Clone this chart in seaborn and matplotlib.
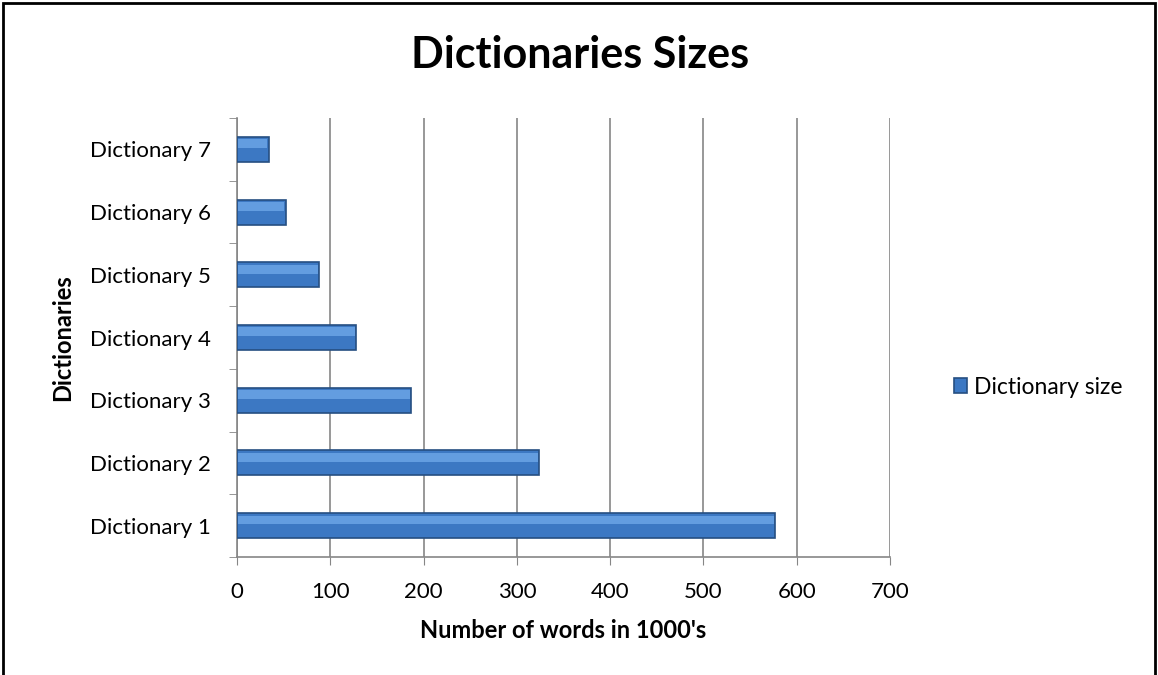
import pandas as pd
import numpy as np
import matplotlib
matplotlib.use("Agg")
import matplotlib.pyplot as plt
import seaborn as sns
from matplotlib.ticker import FixedLocator

# Data
dictionaries = ["Dictionary 1", "Dictionary 2", "Dictionary 3", "Dictionary 4",
                "Dictionary 5", "Dictionary 6", "Dictionary 7"]
sizes = [577, 324, 187, 128, 88, 52, 34]
x_ticks = [0, 100, 200, 300, 400, 500, 600, 700]

df = pd.DataFrame({"Dictionary": dictionaries, "Dictionary size": sizes})

sns.set_style("white")
plt.rcParams["font.family"] = ["Lato", "DejaVu Sans"]
plt.rcParams["text.color"] = "black"
plt.rcParams["axes.labelcolor"] = "black"
plt.rcParams["xtick.color"] = "black"
plt.rcParams["ytick.color"] = "black"

fig = plt.figure(figsize=(11.58, 6.75), dpi=100)
ax = fig.add_axes([237 / 1158, 1 - 557 / 675, (890 - 237) / 1158, (557 - 118) / 675])

sns.barplot(data=df, y="Dictionary", x="Dictionary size", order=dictionaries[::-1],
            orient="h", color="#3c78c3", edgecolor="#264f82", linewidth=1.2,
            width=0.4, saturation=1, ax=ax, label="Dictionary size", zorder=3)

# lighter upper band to mimic the bevel look
sns.barplot(data=df, y="Dictionary", x="Dictionary size", order=dictionaries[::-1],
            orient="h", color="#6aa4e6", linewidth=0, width=0.14, saturation=1,
            ax=ax, zorder=4)
for p in ax.patches[len(dictionaries):]:
    p.set_y(p.get_y() - 0.09)
    p.set_width(max(p.get_width() - 3, 0))
    p.set_x(1.5)
    p.set_alpha(0.85)

ax.set_xlim(0, 700)
ax.set_ylim(6.5, -0.5)
ax.xaxis.set_major_locator(FixedLocator(x_ticks))
ax.set_xticklabels([str(t) for t in x_ticks], fontsize=16)
ax.tick_params(axis="x", length=6, color="#868686", pad=12, direction="out", bottom=True)
ax.tick_params(axis="y", length=0, labelsize=16, pad=19)
ax.yaxis.set_minor_locator(FixedLocator(np.arange(-0.5, 7, 1)))
ax.tick_params(axis="y", which="minor", length=6, color="#868686", direction="out", left=True)

ax.grid(axis="x", color="#868686", linewidth=1.2, zorder=0)
ax.grid(axis="y", visible=False)
ax.set_axisbelow(True)
for side in ["top", "right"]:
    ax.spines[side].set_visible(False)
for side in ["left", "bottom"]:
    ax.spines[side].set_color("#868686")
    ax.spines[side].set_linewidth(1.2)

ax.set_xlabel("Number of words in 1000's", fontsize=17, fontweight="bold", labelpad=12)
ax.set_ylabel("Dictionaries", fontsize=17, fontweight="bold", labelpad=11)
fig.suptitle("Dictionaries Sizes", fontsize=31, fontweight="bold", x=580 / 1158, y=1 - 55 / 675,
             va="center")

handles, labels = ax.get_legend_handles_labels()
leg = ax.legend(handles[:1], labels[:1], loc="center left", bbox_to_anchor=(933 / 1158, 1 - 387 / 675),
                bbox_transform=fig.transFigure, frameon=False, fontsize=16.5,
                handlelength=0.6, handleheight=0.6, handletextpad=0.3)

# outer border of the chart area
fig.patches.append(plt.Rectangle((0.003, -0.01), 0.994, 1.006, transform=fig.transFigure,
                                 fill=False, edgecolor="black", linewidth=2))

fig.savefig("out.png", dpi=100)
